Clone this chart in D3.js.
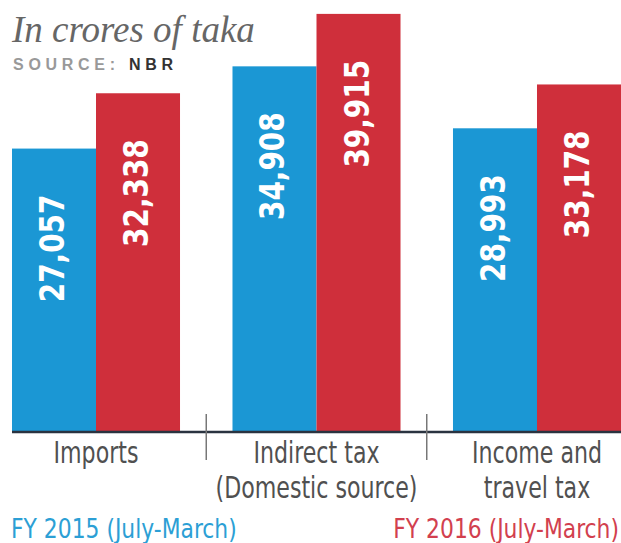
<!DOCTYPE html>
<html><head><meta charset="utf-8">
<script src="https://cdn.jsdelivr.net/npm/d3@7"></script>
<style>body{margin:0;background:#fff}</style>
</head><body>
<script>
const categories = ["Imports", "Indirect tax|(Domestic source)", "Income and|travel tax"];
const series = ["FY 2015 (July-March)", "FY 2016 (July-March)"];
const fy2015 = [27057, 34908, 28993];
const fy2016 = [32338, 39915, 33178];
const colors = ["#1b97d4", "#cf2f3b"];

const W = 621, H = 543;
const svg = d3.select("body").append("svg").attr("width", W).attr("height", H);
const cond = "'DejaVu Sans Condensed','DejaVu Sans',sans-serif";

const x0 = d3.scaleBand().domain(categories).range([12, 621]).paddingInner(0.238).paddingOuter(0);
const x1 = d3.scaleBand().domain(series).range([0, x0.bandwidth()]).padding(0);
const y = d3.scaleLinear().domain([0, 40000]).range([432, 13]);

const data = categories.map((c, i) => ({cat: c, vals: [fy2015[i], fy2016[i]]}));

const g = svg.selectAll("g.grp").data(data).enter().append("g")
  .attr("transform", d => `translate(${x0(d.cat)},0)`);

g.selectAll("rect").data(d => d.vals.map((v, j) => ({s: series[j], v, j}))).enter().append("rect")
  .attr("x", d => x1(d.s)).attr("width", x1.bandwidth())
  .attr("y", d => y(d.v)).attr("height", d => y(0) - y(d.v))
  .attr("fill", d => colors[d.j]);

g.selectAll("text.val").data(d => d.vals.map((v, j) => ({s: series[j], v, j}))).enter().append("text")
  .attr("class", "val")
  .attr("transform", d => `translate(${x1(d.s) + x1.bandwidth() / 2 + 10},${y(d.v) + 46}) rotate(-90) scale(0.94,1)`)
  .attr("text-anchor", "end")
  .attr("font-family", cond).attr("font-weight", "bold").attr("font-size", 33)
  .attr("fill", "#fff")
  .text(d => d3.format(",")(d.v));

// axis line
const axis = d3.axisBottom(x0).tickSize(0).tickFormat("");
svg.append("g").attr("transform", `translate(0,${y(0)})`).call(axis)
  .call(s => s.select(".domain").attr("stroke", "#2a3340").attr("stroke-width", 2.5).attr("d", `M12,0H621`));

// separator ticks
const seps = categories.slice(1).map(c => x0(c) - x0.step() * x0.paddingInner() / 2);
svg.selectAll("line.sep").data(seps).enter().append("line")
  .attr("x1", d => d).attr("x2", d => d).attr("y1", y(0) - 18).attr("y2", y(0) + 28)
  .attr("stroke", "#777").attr("stroke-width", 1.5);

// category labels
categories.forEach(c => {
  c.split("|").forEach((line, i) => {
    svg.append("text")
      .attr("transform", `translate(${x0(c) + x0.bandwidth() / 2},${463 + i * 35}) scale(0.82,1)`)
      .attr("text-anchor", "middle").attr("font-family", cond).attr("font-size", 30).attr("fill", "#505050")
      .text(line);
  });
});

// legend
svg.append("text").attr("transform", "translate(11,538) scale(0.9,1)").attr("font-family", cond).attr("font-size", 27)
  .attr("fill", "#2c9fd5").text(series[0]);
svg.append("text").attr("transform", "translate(619,538) scale(0.9,1)").attr("text-anchor", "end").attr("font-family", cond).attr("font-size", 27)
  .attr("fill", "#d2404e").text(series[1]);

// title
svg.append("text").attr("x", 12).attr("y", 42).attr("font-family", "'Liberation Serif','DejaVu Serif',serif")
  .attr("font-style", "italic").attr("font-size", 37).attr("fill", "#666").text("In crores of taka");
const src = svg.append("text").attr("x", 13).attr("y", 70).attr("font-family", "'Liberation Sans',sans-serif")
  .attr("font-size", 16).attr("font-weight", "bold").attr("fill", "#999").attr("textLength", 160).attr("lengthAdjust", "spacing");
src.append("tspan").text("SOURCE: ");
src.append("tspan").attr("fill", "#333").text("NBR");
</script>
</body></html>
